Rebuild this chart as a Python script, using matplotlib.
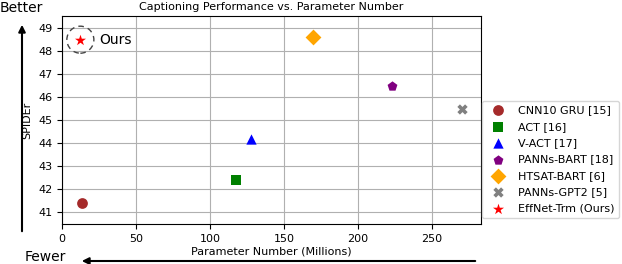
import matplotlib
matplotlib.use("Agg")
import matplotlib.pyplot as plt
from matplotlib.patches import Ellipse, FancyArrowPatch

# data
models = ["CNN10 GRU [15]", "ACT [16]", "V-ACT [17]", "PANNs-BART [18]",
          "HTSAT-BART [6]", "PANNs-GPT2 [5]", "EffNet-Trm (Ours)"]
params = [13.5, 117.8, 127.5, 223, 169.5, 270.3, 12.4]
spider = [41.4, 42.4, 44.2, 46.5, 48.6, 45.5, 48.5]
markers = ["o", "s", "^", "p", "D", "X", "*"]
colors = ["brown", "green", "blue", "purple", "orange", "gray", "red"]
sizes = [60, 55, 55, 55, 65, 55, 70]

W, H = 622, 264
fig = plt.figure(figsize=(W / 100, H / 100), dpi=100)
ax = fig.add_axes([62 / W, 1 - 224 / H, (481 - 62) / W, (224 - 16) / H])

for m, x, y, mk, c, s in zip(models, params, spider, markers, colors, sizes):
    ax.scatter(x, y, marker=mk, color=c, s=s, label=m, zorder=3, linewidths=0)

ax.set_xlim(0, 283)
ax.set_ylim(40.49, 49.53)
ax.set_yticks([41, 42, 43, 44, 45, 46, 47, 48, 49])
ax.set_xticks([0, 50, 100, 150, 200, 250])
ax.tick_params(labelsize=8)
ax.grid(True, color="#b0b0b0", linewidth=0.8)
ax.set_axisbelow(True)
ax.set_xlabel("Parameter Number (Millions)", fontsize=8, labelpad=2)
ax.set_ylabel("SPIDEr", fontsize=8, labelpad=4)
ax.set_title("Captioning Performance vs. Parameter Number", fontsize=8, pad=4)

# dashed circle around ours (pixel size converted to data units)
ax.add_patch(Ellipse((12.4, 48.5), width=27 / 1.48, height=27 / 23, fill=False,
                     linestyle=(0, (4, 3)), edgecolor="#444444", linewidth=1.0, zorder=2))
ax.text(25, 48.5, "Ours", fontsize=10, va="center", ha="left")

ax.legend(loc="center left", bbox_to_anchor=(1.003, 0.31), fontsize=8,
          borderaxespad=0, labelspacing=0.58, scatterpoints=1)

# arrows and labels
fig.text(0, 1 - 8 / H, "Better", fontsize=10, va="center", ha="left")
fig.text(25 / W, 1 - 257 / H, "Fewer", fontsize=10, va="center", ha="left")
fig.add_artist(FancyArrowPatch(
    (22 / W, 1 - 234 / H), (22 / W, 1 - 22 / H), transform=fig.transFigure,
    arrowstyle="-|>", mutation_scale=10, color="black", linewidth=1.5))
fig.add_artist(FancyArrowPatch(
    (478 / W, 1 - 261 / H), (79 / W, 1 - 261 / H), transform=fig.transFigure,
    arrowstyle="-|>", mutation_scale=10, color="black", linewidth=1.5))

fig.savefig("out.png", dpi=100)
